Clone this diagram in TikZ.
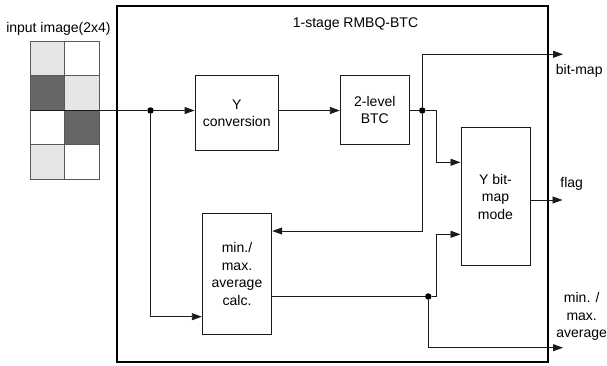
\documentclass[tikz,border=0pt]{standalone}
\usepackage{fontspec}
\setmainfont{Liberation Sans}
\usetikzlibrary{arrows.meta,calc}
\definecolor{lgray}{HTML}{E6E6E6}
\definecolor{dgray}{HTML}{666666}
\definecolor{lc}{HTML}{1A1A1A}
\begin{document}
\begin{tikzpicture}[x=1pt,y=-1pt,
  font=\fontsize{14}{17.5}\selectfont,
  blk/.style={draw=lc,line width=1pt,inner sep=0pt,align=center,fill=white},
  lab/.style={inner sep=0pt,align=center},
  wire/.style={draw=lc,line width=0.9pt},
  arr/.style={wire,-{Triangle[length=10pt,width=7pt]}},
  dot/.style={circle,fill=black,inner sep=0pt,minimum size=6.5pt},
  cell/.style={draw=black!65,line width=0.9pt,minimum size=34.5pt,inner sep=0pt}]
\useasboundingbox (0,0) rectangle (607,365);
% outer box
\node[draw=black,line width=2pt,minimum width=430.7pt,minimum height=356pt,inner sep=0pt] (big) at (332.35,184) {};
\node[lab] (title) at (355.5,24) {1-stage RMBQ-BTC};
% input image grid
\node[lab] (inlab) at (58.4,29) {input image(2x4)};
\node[cell,fill=lgray] (c11) at (47.25,58.25) {};
\node[cell,fill=white] (c12) at (81.75,58.25) {};
\node[cell,fill=dgray] (c21) at (47.25,92.75) {};
\node[cell,fill=lgray] (c22) at (81.75,92.75) {};
\node[cell,fill=white] (c31) at (47.25,127.25) {};
\node[cell,fill=dgray] (c32) at (81.75,127.25) {};
\node[cell,fill=lgray] (c41) at (47.25,161.75) {};
\node[cell,fill=white] (c42) at (81.75,161.75) {};
\coordinate (in) at (30,110.5);
% blocks
\node[blk,minimum width=83.3pt,minimum height=75.3pt] (yconv) at (236.7,113.3) {Y\\conversion};
\node[blk,minimum width=69pt,minimum height=68.6pt] (btc) at (374.8,110) {2-level\\BTC};
\node[blk,minimum width=69pt,minimum height=138.4pt] (ybm) at (495.5,196.5) {Y bit-\\map\\mode};
\node[blk,minimum width=69.4pt,minimum height=121pt] (mm) at (237,273.8) {min./\\max.\\average\\calc.};
% dots
\node[dot] (d1) at (150.5,110.5) {};
\node[dot] (d2) at (422.3,110.5) {};
\node[dot] (d3) at (428.3,296.5) {};
% output coordinates
\coordinate (obm) at (563,54.3);
\coordinate (oflag) at (562.5,200);
\coordinate (omm) at (563,347.7);
% wires
\draw[wire] (in) -- (d1);
\draw[arr] (d1) -- (yconv.west |- d1);
\draw[arr] (yconv.east |- d1) -- (btc.west |- d1);
\draw[wire] (btc.east |- d2) -- (d2);
\draw[arr] (d2) -- (436.7,110.5) -- (436.7,162.3) -- (ybm.west |- 0,162.3);
\draw[arr] (d2) -- (d2 |- obm) -- (obm);
\draw[arr] (d2) -- (422.3,231) -- (mm.east |- 0,231);
\draw[arr] (d1) -- (150.5,316.7) -- (mm.west |- 0,316.7);
\draw[wire] (mm.east |- d3) -- (d3);
\draw[arr] (d3) -- (436.7,296.5) -- (436.7,234.3) -- (ybm.west |- 0,234.3);
\draw[arr] (d3) -- (d3 |- omm) -- (omm);
\draw[arr] (ybm.east |- oflag) -- (oflag);
% output labels
\node[lab] (lbm) at (579.2,71) {bit-map};
\node[lab] (lflag) at (571.7,184) {flag};
\node[lab] (lmm) at (581.7,316.7) {min. /\\max.\\average};
\end{tikzpicture}
\end{document}
